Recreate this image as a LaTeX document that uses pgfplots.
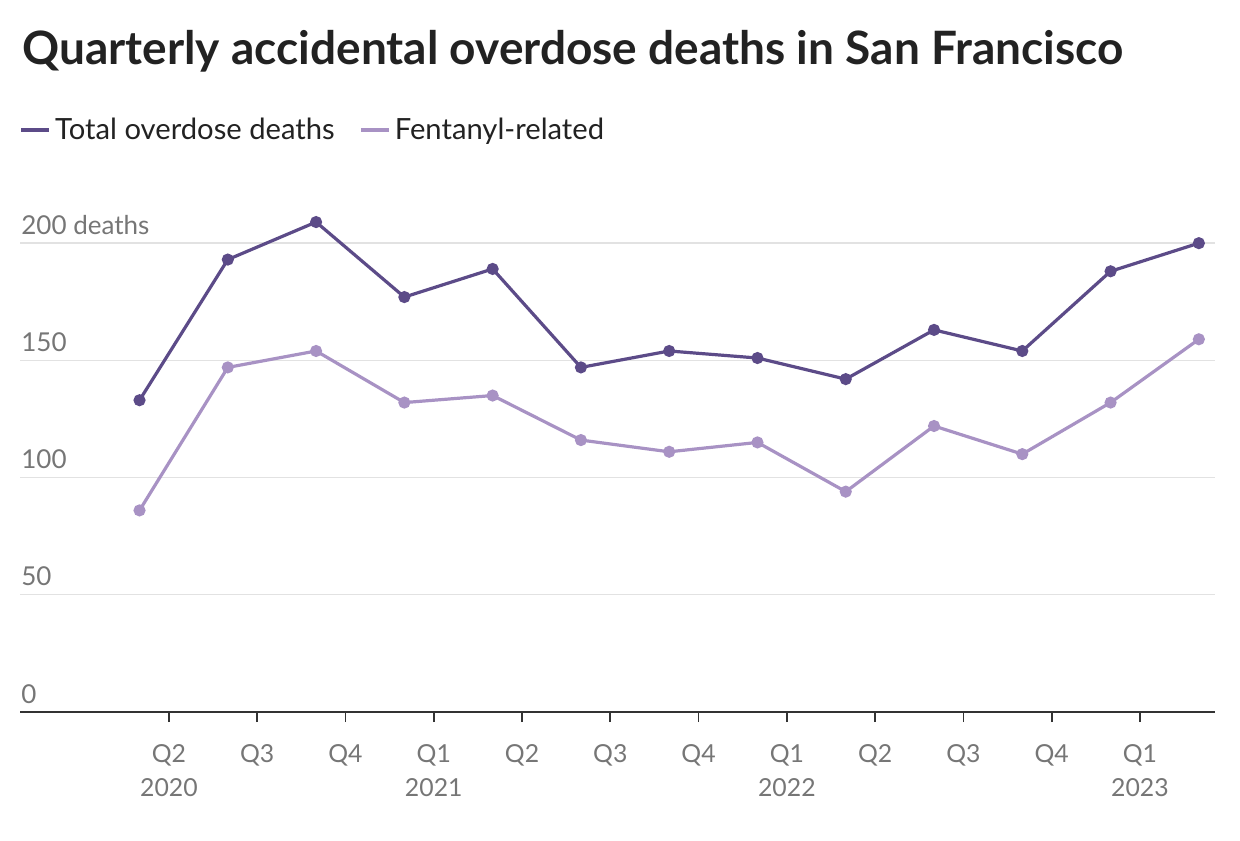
\documentclass[border=0pt]{standalone}
\usepackage{fontspec}
\setmainfont{Lato}
\usepackage{pgfplots}
\pgfplotsset{compat=1.18}
\definecolor{totalc}{HTML}{5C4B88}
\definecolor{fentc}{HTML}{A892C4}
\definecolor{ticktext}{HTML}{767676}
\definecolor{gridc}{HTML}{E2E2E2}
\definecolor{axisc}{HTML}{333333}
\definecolor{titlec}{HTML}{222222}

% quarters Q1 2020 .. Q1 2023, plotted two thirds into each quarter
\pgfplotstableread{
x      total fent
0.667  133   86
1.667  193   147
2.667  209   154
3.667  177   132
4.667  189   135
5.667  147   116
6.667  154   111
7.667  151   115
8.667  142   94
9.667  163   122
10.667 154   110
11.667 188   132
12.667 200   159
}\deaths

\begin{document}
\begin{tikzpicture}
\useasboundingbox (-10pt,-64pt) rectangle (610pt,356pt);
\begin{axis}[
    at={(0,0)}, anchor=south west,
    scale only axis,
    width=597.5pt, height=252pt,
    xmin=-0.687, xmax=12.85,
    ymin=0, ymax=215,
    clip=false,
    axis x line*=bottom,
    axis y line*=left,
    y axis line style={draw=none},
    ytick style={draw=none},
    x axis line style={axisc, line width=1.3pt, -},
    xtick={1,...,12},
    xticklabels={Q2\\2020,Q3,Q4,Q1\\2021,Q2,Q3,Q4,Q1\\2022,Q2,Q3,Q4,Q1\\2023},
    xtick style={axisc, line width=0.9pt},
    tick align=outside,
    major tick length=5pt,
    xticklabel style={align=center, text=ticktext, font=\fontsize{12.4}{17}\selectfont, anchor=north, yshift=-7.5pt},
    ytick={0,50,100,150,200},
    yticklabels={0,50,100,150,200 deaths},
    ymajorgrids,
    grid style={gridc, line width=0.7pt},
    yticklabel style={anchor=base west, text=ticktext, font=\fontsize{13}{15}\selectfont, inner sep=0pt, xshift=5.5pt, yshift=4.5pt},
    /pgf/number format/assume math mode=true,
    legend style={draw=none, fill=none, at={(-0.006,1.1548)}, anchor=west,
        legend columns=-1, font=\fontsize{14.6}{17}\selectfont, text=titlec,
        /tikz/every even column/.append style={column sep=10pt}},
    legend image code/.code={\draw[#1, mark=none, line width=2pt] (0pt,0pt) -- (14pt,0pt);},
]
\addplot[totalc, line width=1.6pt, mark=*, mark size=2.2pt] table[x=x, y=total] {\deaths};
\addlegendentry{Total overdose deaths}
\addplot[fentc, line width=1.6pt, mark=*, mark size=2.2pt] table[x=x, y=fent] {\deaths};
\addlegendentry{Fentanyl-related}
\end{axis}
\node[anchor=base west, inner sep=0pt, text=titlec, font=\fontsize{23}{27}\selectfont\bfseries] at (1pt,323.5pt) {Quarterly accidental overdose deaths in San Francisco};
\end{tikzpicture}
\end{document}
